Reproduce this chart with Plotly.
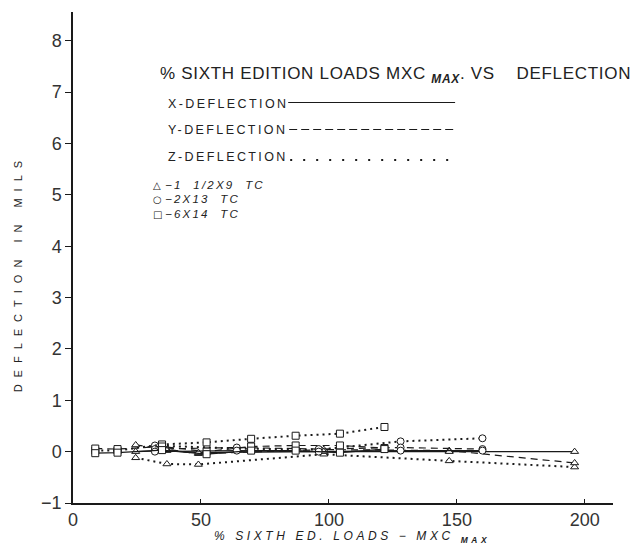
import plotly.graph_objects as go

# ---------------- data ----------------
# 1 1/2X9 TC  (triangles)
tri_load = [24.5, 36.7, 49.0, 98.0, 147.0, 196.0]
tri_x_defl = [0.00, 0.02, -0.02, 0.00, 0.00, 0.00]
tri_y_defl = [0.13, 0.04, -0.04, 0.04, 0.02, -0.22]
tri_z_defl = [-0.12, -0.24, -0.25, -0.05, -0.18, -0.30]

# 2X13 TC  (circles)
cir_load = [32.0, 64.0, 96.0, 128.0, 160.0]
cir_x_defl = [0.00, 0.02, 0.00, 0.02, 0.02]
cir_y_defl = [0.05, 0.08, 0.05, 0.08, 0.05]
cir_z_defl = [0.12, 0.06, 0.04, 0.20, 0.26]

# 6X14 TC  (squares)
sq_load = [8.7, 17.4, 34.8, 52.2, 69.6, 87.0, 104.3, 121.7]
sq_x_defl = [-0.03, -0.02, 0.03, -0.05, 0.02, 0.02, -0.02, 0.05]
sq_y_defl = [0.06, 0.05, 0.10, 0.00, 0.10, 0.12, 0.12, 0.07]
sq_z_defl = [0.02, 0.02, 0.14, 0.18, 0.25, 0.31, 0.35, 0.48]

x_ticks = [0, 50, 100, 150, 200]
y_ticks = [-1, 0, 1, 2, 3, 4, 5, 6, 7, 8]

# ---------------- layout geometry ----------------
OFF = 8                      # default page body margin
W, H = 639 - OFF, 548 - OFF
L, R, T, B = 72.7, 613.0, 12.0, 503.0   # plot area in screen pixels
FONT = "Liberation Sans"
INK = "#1a1a1a"


def px(x):
    return (x - L) / (R - L)


def py(y):
    return (B - y) / (B - T)


fig = go.Figure()

styles = {
    "Z": dict(dash="2px,4px", width=2.0),
    "Y": dict(dash="7px,5px", width=1.2),
    "X": dict(dash="solid", width=1.2),
}

series = [
    ("triangle-up", tri_load, {"X": tri_x_defl, "Y": tri_y_defl, "Z": tri_z_defl}),
    ("circle", cir_load, {"X": cir_x_defl, "Y": cir_y_defl, "Z": cir_z_defl}),
    ("square", sq_load, {"X": sq_x_defl, "Y": sq_y_defl, "Z": sq_z_defl}),
]

for comp in ["Z", "Y", "X"]:
    for sym, load, d in series:
        fig.add_trace(go.Scatter(
            x=load, y=d[comp], mode="lines+markers",
            line=dict(color=INK, **styles[comp]),
            marker=dict(symbol=sym, size=7, color="white",
                        line=dict(color=INK, width=1)),
            showlegend=False, hoverinfo="skip"))

fig.update_layout(
    width=W, height=H,
    margin=dict(l=L - OFF, r=W - (R - OFF), t=T - OFF, b=H - (B - OFF)),
    paper_bgcolor="white", plot_bgcolor="white",
    font=dict(family=FONT, color=INK),
    xaxis=dict(range=[0, 211], tickvals=x_ticks, showgrid=False, zeroline=False,
               showline=True, linecolor=INK, linewidth=1.5,
               ticks="inside", ticklen=4, tickwidth=1.2, tickcolor=INK,
               tickfont=dict(size=18, family=FONT, color="#333")),
    yaxis=dict(range=[-1, 8.56], tickvals=y_ticks, showgrid=False, zeroline=False,
               showline=True, linecolor=INK, linewidth=1.5,
               ticks="outside", ticklen=6, tickwidth=1.2, tickcolor=INK,
               tickfont=dict(size=18, family=FONT, color="#333")),
)

ann = []
# title
ann.append(dict(x=px(158), y=py(75), xanchor="left", yanchor="middle",
                text='<span style="letter-spacing:0.7px">% SIXTH EDITION LOADS MXC '
                     '<sub><b><i>MAX</i></b></sub>. VS\u00a0\u00a0\u00a0 DEFLECTION</span>',
                font=dict(size=17, family=FONT, color="#222")))
# line-style legend
for lbl, yy in [("X-DEFLECTION", 104), ("Y-DEFLECTION", 130), ("Z-DEFLECTION", 157)]:
    ann.append(dict(x=px(166), y=py(yy), xanchor="left", yanchor="middle",
                    text='<span style="letter-spacing:2.4px">' + lbl + '</span>',
                    font=dict(size=12.5, family=FONT, color="#222")))
# marker legend
for sym, lbl, yy in [("\u25b3", "\u22121\u00a0\u00a01/2X9\u00a0\u00a0TC", 185),
                     ("\u25cb", "\u22122X13\u00a0\u00a0TC", 199),
                     ("\u25a1", "\u22126X14\u00a0\u00a0TC", 214)]:
    ann.append(dict(x=px(151), y=py(yy), xanchor="left", yanchor="middle",
                    text=sym, font=dict(size=10, family="DejaVu Sans", color="#222")))
    ann.append(dict(x=px(163), y=py(yy), xanchor="left", yanchor="middle",
                    text='<span style="letter-spacing:2.2px"><i>' + lbl + '</i></span>',
                    font=dict(size=11.5, family=FONT, color="#222")))
# axis titles
ann.append(dict(x=px(18), y=py(273), xanchor="center", yanchor="middle", textangle=-90,
                text='<span style="letter-spacing:7px">DEFLECTION IN MILS</span>',
                font=dict(size=11, family=FONT, color="#222")))
ann.append(dict(x=px(352), y=py(537), xanchor="center", yanchor="middle",
                text='<span style="letter-spacing:3.6px"><i>% SIXTH ED. LOADS \u2212 MXC <sub><b>MAX</b></sub></i></span>',
                font=dict(size=12, family=FONT, color="#222")))
for a in ann:
    a.update(xref="paper", yref="paper", showarrow=False)
fig.update_layout(annotations=ann)

# legend sample lines
shapes = [
    dict(x0=px(288), x1=px(455), y0=py(102.5), y1=py(102.5),
         line=dict(color=INK, width=1.2)),
    dict(x0=px(289), x1=px(455), y0=py(129.5), y1=py(129.5),
         line=dict(color=INK, width=1.2, dash="8px,4px")),
    dict(x0=px(290), x1=px(450), y0=py(160), y1=py(160),
         line=dict(color=INK, width=2, dash="2px,11px")),
]
for s in shapes:
    s.update(type="line", xref="paper", yref="paper")
fig.update_layout(shapes=shapes)

fig.write_html("out.html")
